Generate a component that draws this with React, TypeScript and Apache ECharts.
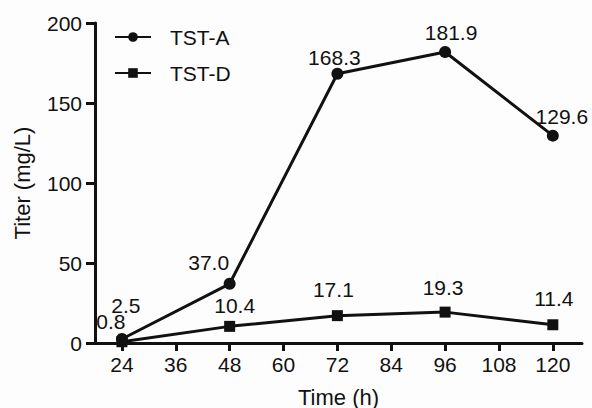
import React, { useEffect, useRef } from "react";
import * as echarts from "echarts";

const timePoints = [24, 48, 72, 96, 120];
const xTicks = [24, 36, 48, 60, 72, 84, 96, 108, 120];
const tstA = [2.5, 37.0, 168.3, 181.9, 129.6];
const tstD = [0.8, 10.4, 17.1, 19.3, 11.4];
const seriesNames = ["TST-A", "TST-D"];

const FONT = "Liberation Sans, Arial, sans-serif";
const INK = "#111";
const labelOffsetsA = [[4, -17], [-21, -5], [-3, 0], [6, -3], [9, -3]];
const labelOffsetsD = [[-11, -4], [5, -5], [-4, -10], [-2, -9], [1, -10]];

function buildSeries(name: string, values: number[], symbol: string, offsets: number[][]) {
  return {
    name,
    type: "line",
    symbol,
    symbolSize: symbol === "rect" ? 11 : 12,
    itemStyle: { color: INK },
    lineStyle: { color: INK, width: 3 },
    data: values.map((v, i) => ({
      value: [timePoints[i], v],
      label: { offset: offsets[i] },
    })),
    label: {
      show: true,
      position: "top",
      distance: 0,
      color: INK,
      fontSize: 21,
      fontFamily: FONT,
      formatter: (p: any) => p.value[1].toFixed(1),
    },
    z: symbol === "rect" ? 3 : 4,
  };
}

export default function App() {
  const ref = useRef<HTMLDivElement>(null);
  useEffect(() => {
    if (!ref.current) return;
    const chart = echarts.init(ref.current, undefined, { renderer: "svg" });
    chart.setOption({
      animation: false,
      backgroundColor: "#fdfdfd",
      textStyle: { fontFamily: FONT },
      grid: { left: 95, right: 10, top: 23, bottom: 65, outerBoundsMode: "none", containLabel: false },
      legend: {
        orient: "vertical",
        left: 114,
        top: 26,
        padding: 0,
        itemWidth: 36,
        itemHeight: 12,
        itemGap: 14,
        data: seriesNames,
        textStyle: { fontSize: 21, color: INK, fontFamily: FONT, padding: [0, 0, 0, 14], lineHeight: 22 },
      },
      xAxis: {
        type: "value",
        min: 18,
        max: 126.5,
        name: "Time (h)",
        nameLocation: "middle",
        nameGap: 43,
        nameTextStyle: { fontSize: 22, color: INK, fontFamily: FONT },
        splitLine: { show: false },
        axisLine: { lineStyle: { color: INK, width: 3 } },
        axisTick: { show: true, length: 8, customValues: xTicks, lineStyle: { color: INK, width: 3 } },
        axisLabel: { customValues: xTicks, fontSize: 21, color: INK, margin: 11, fontFamily: FONT },
      },
      yAxis: {
        type: "value",
        min: 0,
        max: 200,
        interval: 50,
        name: "Titer (mg/L)",
        nameLocation: "middle",
        nameGap: 62,
        nameTextStyle: { fontSize: 22, color: INK, fontFamily: FONT },
        splitLine: { show: false },
        axisLine: { show: true, lineStyle: { color: INK, width: 3 } },
        axisTick: { show: true, length: 9, lineStyle: { color: INK, width: 3 } },
        axisLabel: { fontSize: 21, color: INK, margin: 13, fontFamily: FONT },
      },
      series: [
        buildSeries(seriesNames[0], tstA, "circle", labelOffsetsA),
        buildSeries(seriesNames[1], tstD, "rect", labelOffsetsD),
      ],
    });
    return () => chart.dispose();
  }, []);
  return (
    <div
      ref={ref}
      style={{ position: "fixed", left: 0, top: 0, width: 592, height: 408 }}
    />
  );
}
